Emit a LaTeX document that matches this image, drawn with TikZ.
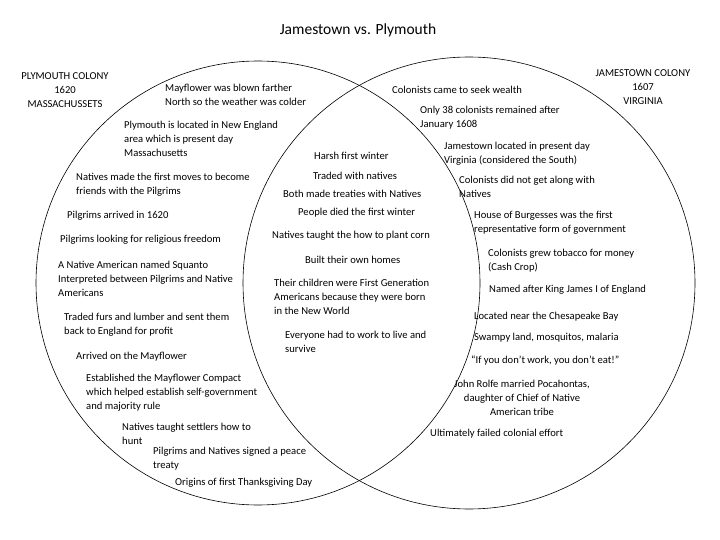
\documentclass[tikz,border=0pt]{standalone}
\usepackage{fontspec}
\setmainfont{Carlito}
\begin{document}
\begin{tikzpicture}[x=1pt,y=-1pt,
  t/.style={anchor=west,align=left,inner sep=0pt,font=\fontsize{10.6}{14}\selectfont},
  c/.style={align=center,inner sep=0pt,font=\fontsize{10.6}{14}\selectfont},
  ring/.style={draw=black,line width=0.6pt}]
\useasboundingbox (0,0) rectangle (720,540);
\node[ring,circle,minimum size=444pt,inner sep=0pt] (L) at (258,283) {};
\node[ring,circle,minimum size=452pt,inner sep=0pt] (R) at (469,283) {};
\node[c,font=\fontsize{15.5}{18}\selectfont] (title) at (358,30) {Jamestown vs. Plymouth};
\node[c] (pc) at (65,90) {PLYMOUTH COLONY\\1620\\MASSACHUSSETS};
\node[c] (jc) at (643,87) {JAMESTOWN COLONY\\1607\\VIRGINIA};
\node[t] (a1) at (165,95) {Mayflower was blown farther\\North so the weather was colder};
\node[t] (b1) at (392,90) {Colonists came to seek wealth};
\node[t] (b2) at (420,117.5) {Only 38 colonists remained after\\January 1608};
\node[t] (a2) at (124,139) {Plymouth is located in New England\\area which is present day\\Massachusetts};
\node[t] (b3) at (444,154) {Jamestown located in present day\\Virginia (considered the South)};
\node[t] (m1) at (314,156) {Harsh first winter};
\node[t] (a3) at (76,185) {Natives made the first moves to become\\friends with the Pilgrims};
\node[c] (m2) at (355,176) {Traded with natives};
\node[t] (m3) at (283,194) {Both made treaties with Natives};
\node[t] (b4) at (459,187) {Colonists did not get along with\\Natives};
\node[t] (a4) at (67,216) {Pilgrims arrived in 1620};
\node[t] (m4) at (298,213) {People died the first winter};
\node[t] (b5) at (474,223) {House of Burgesses was the first\\representative form of government};
\node[t] (a5) at (60,240) {Pilgrims looking for religious freedom};
\node[t] (m5) at (272,236) {Natives taught the how to plant corn};
\node[t] (m6) at (305,260) {Built their own homes};
\node[t] (b6) at (488,261) {Colonists grew tobacco for money\\(Cash Crop)};
\node[t] (a6) at (58,279) {A Native American named Squanto\\Interpreted between Pilgrims and Native\\Americans};
\node[t] (m7) at (274,297) {Their children were First Generation\\Americans because they were born\\in the New World};
\node[t] (b7) at (489,290) {Named after King James I of England};
\node[t] (a7) at (64,324.5) {Traded furs and lumber and sent them\\back to England for profit};
\node[t] (b8) at (474,317) {Located near the Chesapeake Bay};
\node[t] (m8) at (285,342) {Everyone had to work to live and\\survive};
\node[t] (b9) at (474,338) {Swampy land, mosquitos, malaria};
\node[t] (a8) at (76,357) {Arrived on the Mayflower};
\node[t] (b10) at (471,361) {“If you don’t work, you don’t eat!”};
\node[t] (a9) at (86,393) {Established the Mayflower Compact\\which helped establish self-government\\and majority rule};
\node[c] (b11) at (522,398) {John Rolfe married Pocahontas,\\daughter of Chief of Native\\American tribe};
\node[t] (a10) at (122,434) {Natives taught settlers how to\\hunt};
\node[t] (b12) at (430,434) {Ultimately failed colonial effort};
\node[t] (a11) at (153,459) {Pilgrims and Natives signed a peace\\treaty};
\node[t] (a12) at (175,483) {Origins of first Thanksgiving Day};
\end{tikzpicture}
\end{document}
